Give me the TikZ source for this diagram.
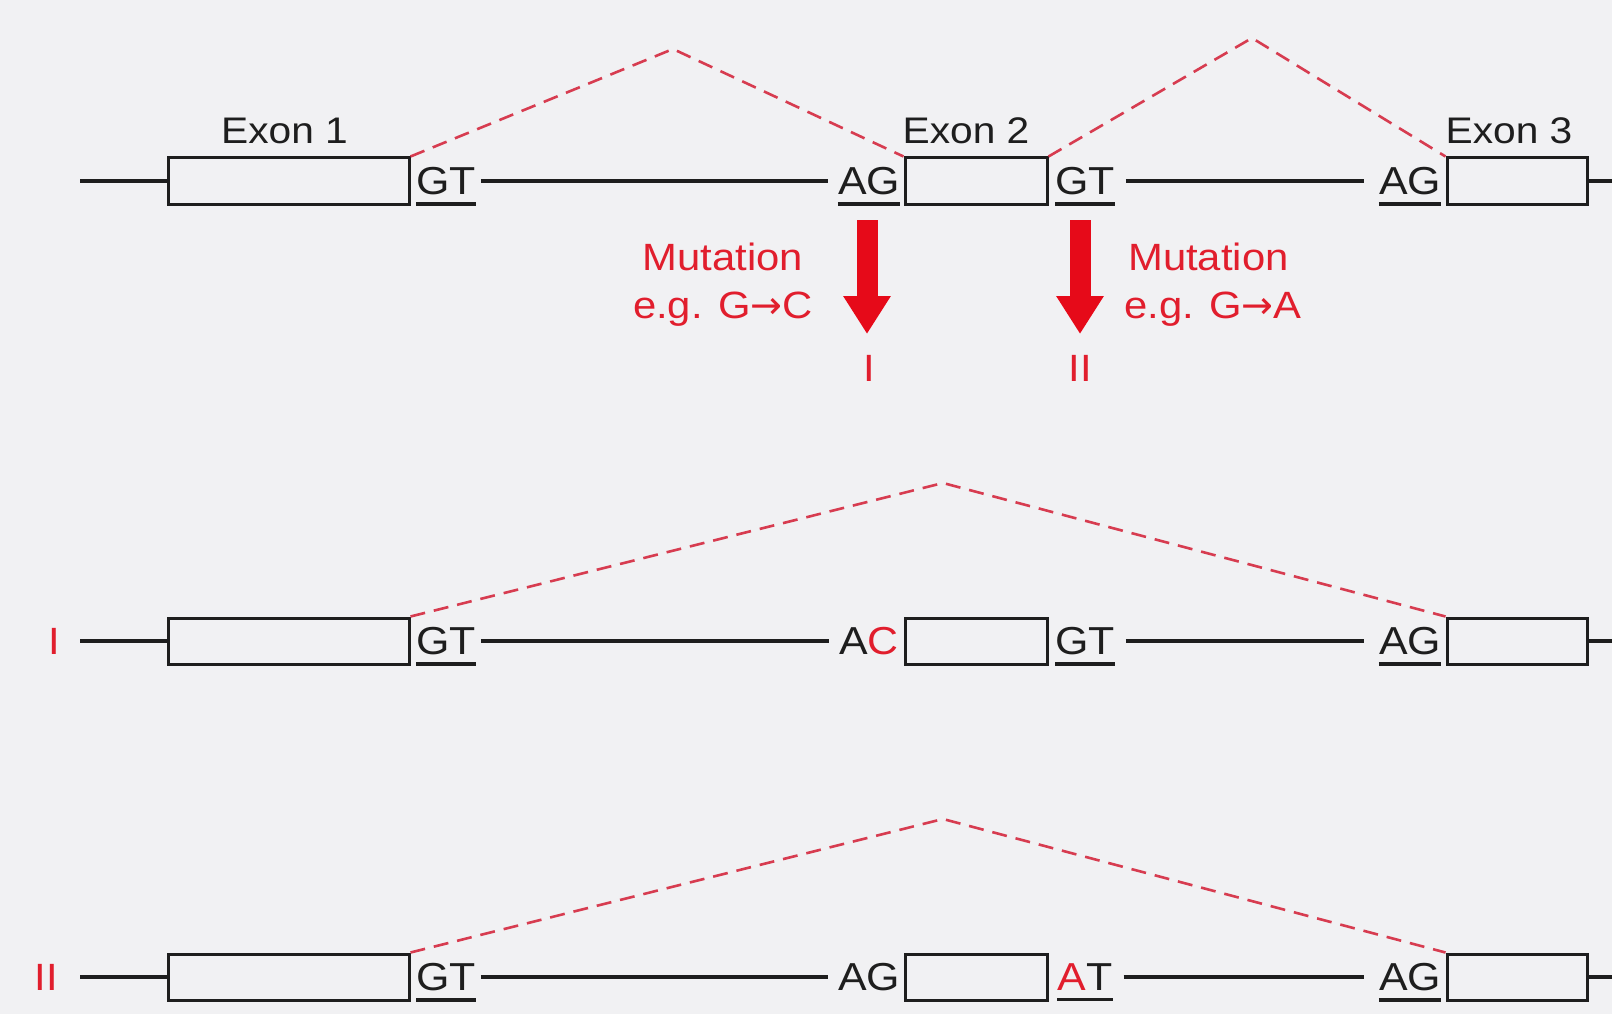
\documentclass[tikz,border=0pt]{standalone}
\usepackage{fontspec}
\setmainfont{Liberation Sans}[FakeStretch=1.1]
\newfontfamily\arrowfont{DejaVu Sans}
\usetikzlibrary{arrows.meta}
\definecolor{bg}{RGB}{241,241,243}
\definecolor{ink}{RGB}{30,30,30}
\definecolor{txtred}{RGB}{225,30,45}
\definecolor{arrowred}{RGB}{230,10,25}
\definecolor{dashred}{RGB}{215,60,80}
\newcommand{\mutarr}{{\arrowfont →}}
\begin{document}
\begin{tikzpicture}[x=1pt,y=-1pt,
  exonbox/.style={draw=ink, line width=3pt, minimum width=#1, minimum height=46pt, inner sep=0pt},
  site/.style={inner sep=0pt, font=\fontsize{39}{44}\selectfont, text=ink},
  uline/.style={draw=ink, line width=3.5pt},
  intron/.style={draw=ink, line width=3.2pt},
  splice/.style={draw=dashred, line width=2.6pt, dash pattern=on 15pt off 9pt},
  mutarrow/.style={draw=arrowred, line width=21pt, -{Triangle[width=45pt,length=38pt]}},
  exlabel/.style={anchor=base, inner sep=0pt, font=\fontsize{37}{40}\selectfont, text=ink},
  redtext/.style={inner sep=0pt, font=\fontsize{38}{42}\selectfont, text=txtred}]
\fill[bg] (0,0) rectangle (1612,1014);
\useasboundingbox (0,0) rectangle (1612,1014);

% ---------- Row 1 ----------
\node[exonbox=241pt] (e1a) at (288.5,181) {};
\node[exonbox=142pt] (e1b) at (976,181) {};
\node[exonbox=140pt] (e1c) at (1517,181) {};
\node[exlabel] (l1) at (284.5,143) {Exon 1};
\node[exlabel] (l2) at (966,143) {Exon 2};
\node[exlabel] (l3) at (1509,143) {Exon 3};
\node[site] (d1a) at (446,181) {GT};
\node[site] (a1b) at (869,181) {AG};
\node[site] (d1b) at (1085,181) {GT};
\node[site] (a1c) at (1410,181) {AG};
\coordinate (s1) at (80,181);
\coordinate (t1) at (1612,181);
\draw[intron] (s1) -- (e1a.west);
\draw[intron, shorten <=5pt, shorten >=10pt] (d1a.east) -- (a1b.west);
\draw[intron, shorten <=11pt, shorten >=15pt] (d1b.east) -- (a1c.west);
\draw[intron] (e1c.east) -- (t1);
\foreach \n in {d1a,a1b,d1b,a1c}
  \draw[uline] ([yshift=-9pt]\n.south west) -- ([yshift=-9pt]\n.south east);
\coordinate (p1) at (673,49);
\coordinate (p2) at (1252,38);
\draw[splice] (e1a.north east) -- (p1) -- (e1b.north west);
\draw[splice] (e1b.north east) -- (p2) -- (e1c.north west);

% ---------- Mutations ----------
\coordinate (m1s) at (867,220);
\coordinate (m1e) at (867,334);
\coordinate (m2s) at (1080,220);
\coordinate (m2e) at (1080,334);
\draw[mutarrow] (m1s) -- (m1e);
\draw[mutarrow] (m2s) -- (m2e);
\node[redtext, anchor=base] (mt1) at (723,270) {Mutation};
\node[redtext, anchor=base] (eg1) at (723,318) {e.g. G\mutarr C};
\node[redtext, anchor=base west] (mt2) at (1128,270) {Mutation};
\node[redtext, anchor=base west] (eg2) at (1124,318) {e.g. G\mutarr A};
\node[redtext] (n1) at (869,368) {I};
\node[redtext] (n2) at (1080,368) {II};

% ---------- Row 2 ----------
\node[redtext] (r2) at (54,641) {I};
\node[exonbox=241pt] (e2a) at (288.5,641) {};
\node[exonbox=142pt] (e2b) at (976,641) {};
\node[exonbox=140pt] (e2c) at (1517,641) {};
\node[site] (d2a) at (446,641) {GT};
\node[site] (a2b) at (869,641) {A{\color{txtred}C}};
\node[site] (d2b) at (1085,641) {GT};
\node[site] (a2c) at (1410,641) {AG};
\coordinate (s2) at (80,641);
\coordinate (t2) at (1612,641);
\draw[intron] (s2) -- (e2a.west);
\draw[intron, shorten <=5pt, shorten >=10pt] (d2a.east) -- (a2b.west);
\draw[intron, shorten <=11pt, shorten >=15pt] (d2b.east) -- (a2c.west);
\draw[intron] (e2c.east) -- (t2);
\foreach \n in {d2a,d2b,a2c}
  \draw[uline] ([yshift=-9pt]\n.south west) -- ([yshift=-9pt]\n.south east);
\coordinate (p3) at (943,483);
\draw[splice] (e2a.north east) -- (p3) -- (e2c.north west);

% ---------- Row 3 ----------
\node[redtext] (r3) at (46,977) {II};
\node[exonbox=241pt] (e3a) at (288.5,977) {};
\node[exonbox=142pt] (e3b) at (976,977) {};
\node[exonbox=140pt] (e3c) at (1517,977) {};
\node[site] (d3a) at (446,977) {GT};
\node[site] (a3b) at (869,977) {AG};
\node[site] (d3b) at (1085,977) {{\color{txtred}A}T};
\node[site] (a3c) at (1410,977) {AG};
\coordinate (s3) at (80,977);
\coordinate (t3) at (1612,977);
\draw[intron] (s3) -- (e3a.west);
\draw[intron, shorten <=5pt, shorten >=10pt] (d3a.east) -- (a3b.west);
\draw[intron, shorten <=11pt, shorten >=15pt] (d3b.east) -- (a3c.west);
\draw[intron] (e3c.east) -- (t3);
\foreach \n in {d3a,d3b,a3c}
  \draw[uline] ([yshift=-9pt]\n.south west) -- ([yshift=-9pt]\n.south east);
\coordinate (p4) at (943,819);
\draw[splice] (e3a.north east) -- (p4) -- (e3c.north west);
\end{tikzpicture}
\end{document}
